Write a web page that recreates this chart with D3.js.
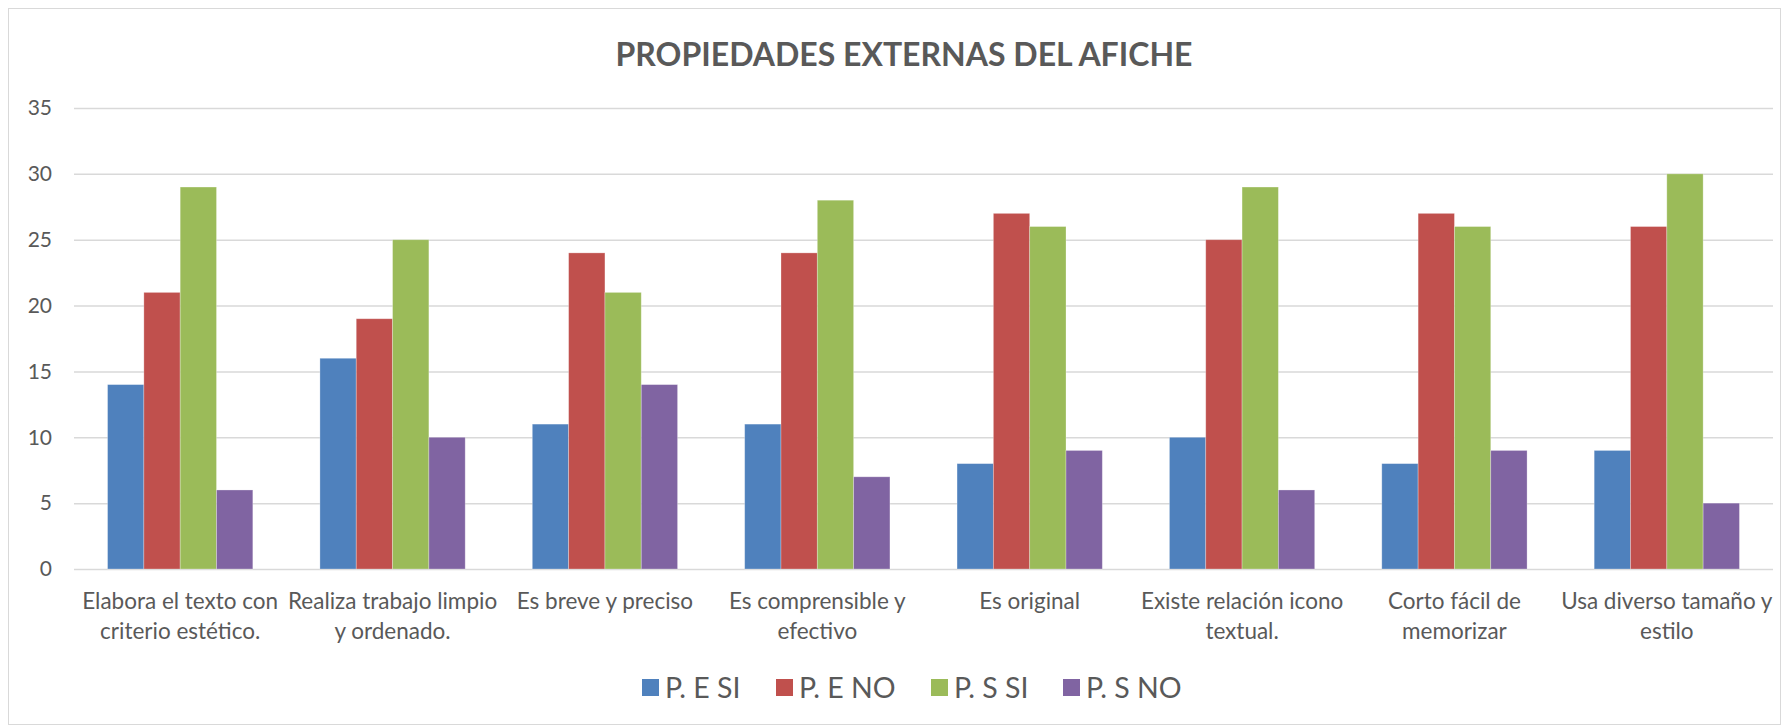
<!DOCTYPE html>
<html>
<head>
<meta charset="utf-8">
<style>
  body { margin: 0; background: #fff; }
  svg { display: block; font-family: Lato, "Open Sans", sans-serif; }
</style>
</head>
<body>
<div id="chart"></div>
<script src="https://d3js.org/d3.v7.min.js"></script>
<script>
    const categories = [
        ["Elabora el texto con", "criterio estético."],
        ["Realiza trabajo limpio", "y ordenado."],
        ["Es breve y preciso"],
        ["Es comprensible y", "efectivo"],
        ["Es original"],
        ["Existe relación icono", "textual."],
        ["Corto fácil de", "memorizar"],
        ["Usa diverso tamaño y", "estilo"]
    ];
    const seriesNames = ["P. E SI", "P. E NO", "P. S SI", "P. S NO"];
    const peSi = [14, 16, 11, 11, 8, 10, 8, 9];
    const peNo = [21, 19, 24, 24, 27, 25, 27, 26];
    const psSi = [29, 25, 21, 28, 26, 29, 26, 30];
    const psNo = [6, 10, 14, 7, 9, 6, 9, 5];
    const yTicks = [0, 5, 10, 15, 20, 25, 30, 35];
    const colors = ["#4F81BD", "#C0504D", "#9BBB59", "#8064A2"];

    const width = 1782, height = 726;
    const margin = { left: 74, right: 9, top: 108, bottom: 157 };
    const series = [peSi, peNo, psSi, psNo];

    const svg = d3.select("#chart").append("svg")
        .attr("width", width)
        .attr("height", height);

    // chart frame
    svg.append("rect")
        .attr("x", 8.5).attr("y", 8.5)
        .attr("width", width - 10).attr("height", height - 10)
        .attr("fill", "#fff")
        .attr("stroke", "#D9D9D9");

    const x = d3.scaleBand()
        .domain(d3.range(categories.length))
        .range([margin.left, width - margin.right])
        .paddingInner(0.316)
        .paddingOuter(0.158);

    const xSub = d3.scaleBand()
        .domain(d3.range(series.length))
        .range([0, x.bandwidth()]);

    const y = d3.scaleLinear()
        .domain([0, 35])
        .range([height - margin.bottom, margin.top]);

    // gridlines + y labels
    const yAxis = d3.axisLeft(y)
        .tickValues(yTicks)
        .tickSize(-(width - margin.left - margin.right))
        .tickPadding(22);

    const gy = svg.append("g")
        .attr("transform", `translate(${margin.left},0)`)
        .call(yAxis);
    gy.select(".domain").remove();
    gy.selectAll(".tick line").attr("stroke", "#D9D9D9").attr("stroke-width", 1.5);
    gy.selectAll(".tick text")
        .attr("fill", "#595959")
        .attr("font-size", 21)
        .attr("font-family", "Lato, sans-serif");

    // bars
    const groups = svg.append("g")
        .selectAll("g")
        .data(categories)
        .join("g")
        .attr("transform", (d, i) => `translate(${x(i)},0)`);

    groups.selectAll("rect")
        .data((d, i) => series.map((s, k) => ({ k, v: s[i] })))
        .join("rect")
        .attr("x", d => xSub(d.k))
        .attr("y", d => y(d.v))
        .attr("width", xSub.bandwidth())
        .attr("height", d => y(0) - y(d.v))
        .attr("fill", d => colors[d.k])
        .attr("stroke", "#fff")
        .attr("stroke-opacity", 0.35)
        .attr("stroke-width", 0.8);

    // category labels
    const xCenter = i => x(i) + x.bandwidth() / 2;
    svg.append("g")
        .selectAll("text")
        .data(categories)
        .join("text")
        .attr("x", (d, i) => xCenter(i))
        .attr("y", 609)
        .attr("text-anchor", "middle")
        .attr("fill", "#595959")
        .attr("font-size", 22.5)
        .each(function (lines) {
            d3.select(this).selectAll("tspan")
                .data(lines)
                .join("tspan")
                .attr("x", function () { return d3.select(this.parentNode).attr("x"); })
                .attr("dy", (l, j) => j === 0 ? 0 : 30)
                .text(l => l);
        });

    // title
    svg.append("text")
        .attr("x", 904)
        .attr("y", 66)
        .attr("text-anchor", "middle")
        .attr("fill", "#595959")
        .attr("font-size", 32)
        .attr("font-weight", "bold")
        .text("PROPIEDADES EXTERNAS DEL AFICHE");

    // legend
    const legendX = [642, 776, 931, 1063];
    const legend = svg.append("g")
        .selectAll("g")
        .data(seriesNames)
        .join("g")
        .attr("transform", (d, i) => `translate(${legendX[i]},688)`);
    legend.append("rect")
        .attr("x", 0).attr("y", -9)
        .attr("width", 17).attr("height", 17)
        .attr("fill", (d, i) => colors[i]);
    legend.append("text")
        .attr("x", 23)
        .attr("y", 10)
        .attr("fill", "#595959")
        .attr("font-size", 28.5)
        .text(d => d);
</script>
</body>
</html>
